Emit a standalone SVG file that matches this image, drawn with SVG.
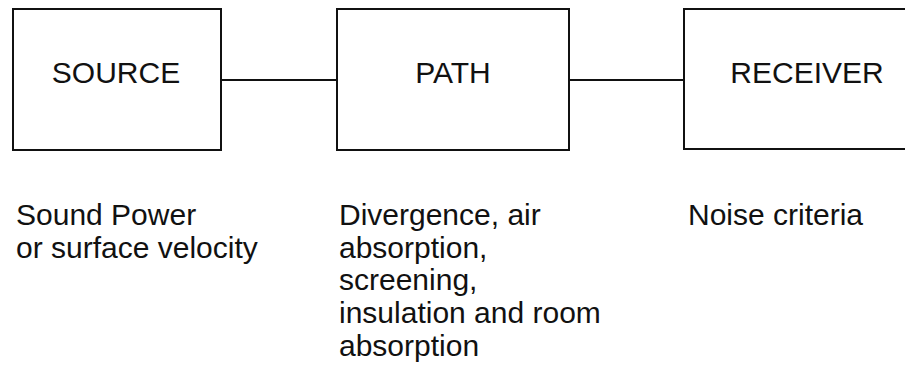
<svg xmlns="http://www.w3.org/2000/svg" width="905" height="376" viewBox="0 0 905 376">
<style>
.box{fill:#fff;stroke:#111;stroke-width:2}
.line{stroke:#111;stroke-width:2;fill:none}
text{font-family:"Liberation Sans",Arial,sans-serif;font-size:30px;fill:#111}
</style>
<rect x="0" y="0" width="905" height="376" fill="#fff"/>
<g id="connectors">
<line class="line" x1="221" y1="80" x2="337" y2="80"/>
<line class="line" x1="569" y1="80" x2="684" y2="80"/>
</g>
<g id="source">
<rect class="box" x="13" y="9" width="208" height="141"/>
<text x="116" y="83" text-anchor="middle">SOURCE</text>
</g>
<g id="path">
<rect class="box" x="337" y="9" width="232" height="141"/>
<text x="453" y="83" text-anchor="middle">PATH</text>
</g>
<g id="receiver">
<rect class="box" x="684" y="9" width="240" height="140"/>
<text x="807" y="83" text-anchor="middle">RECEIVER</text>
</g>
<g id="source-note">
<text x="16" y="225">Sound Power</text>
<text x="16" y="258">or surface velocity</text>
</g>
<g id="path-note">
<text x="339" y="225">Divergence, air</text>
<text x="339" y="258">absorption,</text>
<text x="339" y="290">screening,</text>
<text x="339" y="323">insulation and room</text>
<text x="339" y="356">absorption</text>
</g>
<g id="receiver-note">
<text x="688" y="225">Noise criteria</text>
</g>
</svg>
